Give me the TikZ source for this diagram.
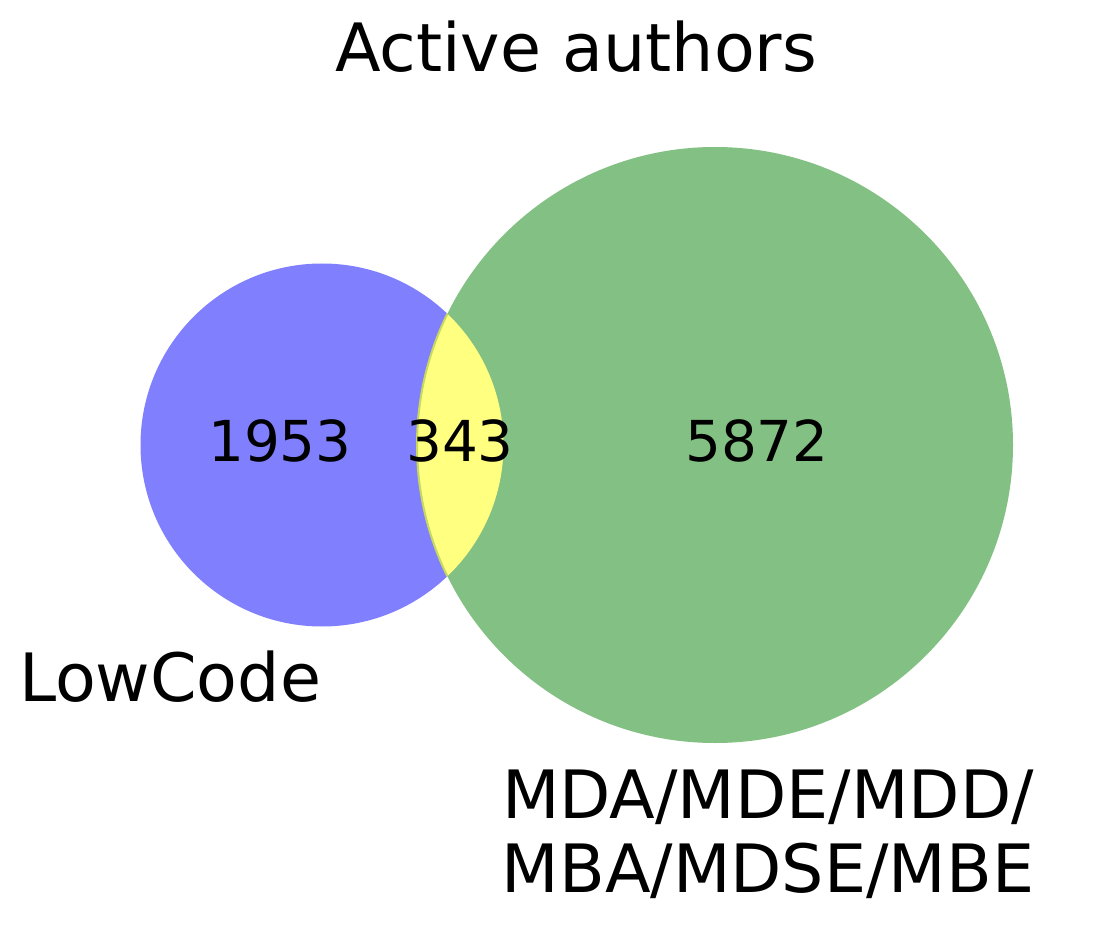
\documentclass[tikz,border=0pt]{standalone}
\usepackage{fontspec}
\setmainfont{DejaVu Sans}
\usepackage{xcolor}
\definecolor{lowblue}{HTML}{8080FF}
\definecolor{mdegreen}{HTML}{83C083}
\definecolor{bothyellow}{HTML}{FFFF80}
\definecolor{rimgreen}{HTML}{C6D860}
\tikzset{
  setcircle/.style={
    circle,
    inner sep=0pt
  },
  countlabel/.style={
    font=\fontsize{42.3}{48}\selectfont,
    text=black,
    anchor=base
  },
  setlabel/.style={
    font=\fontsize{50}{55.5}\selectfont,
    text=black,
    anchor=base,
    align=center
  }
}

\begin{document}
\begin{tikzpicture}[x=0.75pt,y=-0.75pt]

% Background
\fill[white] (0,0) rectangle (1093,927);
\useasboundingbox (0,0) rectangle (1093,927);

% Title
\node[setlabel] (title) at (576,72) {Active authors};

% ---------- Sets ----------
\coordinate (lowc) at (322,445);
\coordinate (mdec) at (715,445);

\fill[lowblue] (lowc) circle (181.5);
\fill[mdegreen] (mdec) circle (298);

% overlap
\begin{scope}
\clip (lowc) circle (181.5);
\fill[bothyellow] (mdec) circle (298);
\draw[rimgreen, line width=1.5pt] (mdec) circle (298);
\end{scope}

% ---------- Counts ----------
\node[countlabel] (onlylow) at (280,461) {1953};
\node[countlabel] (both) at (460,461) {343};
\node[countlabel] (onlymde) at (757,461) {5872};

% ---------- Set names ----------
\node[setlabel] (lowname) at (170,701) {LowCode};
\node[setlabel] (mdename) at (768,892) {MDA/MDE/MDD/\\MBA/MDSE/MBE};

\end{tikzpicture}
\end{document}
